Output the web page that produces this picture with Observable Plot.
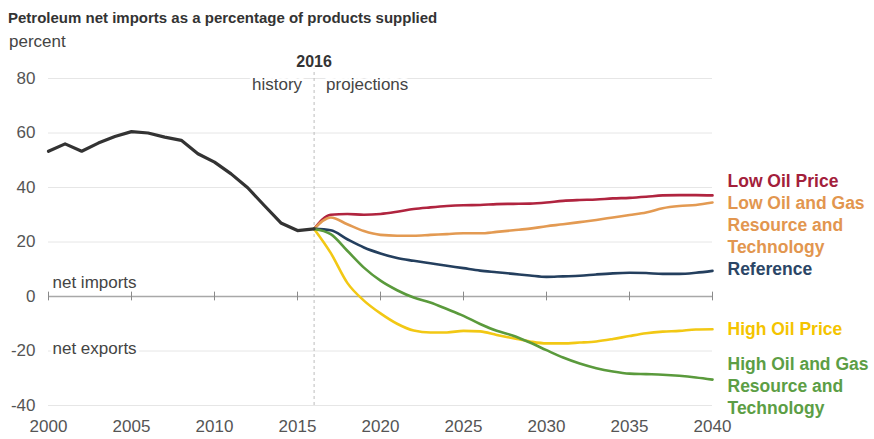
<!DOCTYPE html>
<html>
<head>
<meta charset="utf-8">
<script src="https://cdn.jsdelivr.net/npm/d3@7"></script>
<script src="https://cdn.jsdelivr.net/npm/@observablehq/plot@0.6"></script>
<style>
  body { margin: 0; background: #fff; font-family: "Liberation Sans", Arial, sans-serif; }
  #header { position: relative; width: 874px; height: 50px; }
  #title { position: absolute; left: 8px; top: 9px; font-size: 15px; font-weight: bold; color: #333; white-space: nowrap; }
  #unit { position: absolute; left: 9px; top: 32px; font-size: 17px; color: #444; }
  #chart svg { display: block; }
</style>
</head>
<body>
<div id="header">
  <div id="title">Petroleum net imports as a percentage of products supplied</div>
  <div id="unit">percent</div>
</div>
<div id="chart"></div>
<script>
// ---- data ----
const historyYears = [2000,2001,2002,2003,2004,2005,2006,2007,2008,2009,2010,2011,2012,2013,2014,2015,2016];
const historyValues = [53.3,56.0,53.3,56.3,58.7,60.5,60.0,58.5,57.3,52.4,49.3,45.0,39.9,33.4,27.0,24.2,24.8];

const projYears = [2016,2017,2018,2019,2020,2021,2022,2023,2024,2025,2026,2027,2028,2029,2030,2031,2032,2033,2034,2035,2036,2037,2038,2039,2040];
const lowOilPrice =   [24.8,30.0,30.3,30.0,30.3,31.1,32.1,32.7,33.2,33.5,33.6,33.9,34.0,34.1,34.5,35.1,35.4,35.6,36.0,36.2,36.6,37.1,37.2,37.2,37.1];
const lowOilGas =     [24.8,29.0,26.5,24.0,22.6,22.3,22.3,22.6,22.9,23.2,23.2,23.7,24.3,24.9,25.8,26.5,27.3,28.1,29.0,29.9,30.8,32.4,33.2,33.6,34.5];
const reference =     [24.8,24.3,21.0,18.0,15.8,14.1,13.1,12.2,11.3,10.4,9.5,8.9,8.3,7.7,7.2,7.4,7.6,8.1,8.5,8.7,8.6,8.3,8.3,8.7,9.4];
const highOilPrice =  [24.8,16.0,5.0,-1.5,-6.2,-10.0,-12.5,-13.2,-13.2,-12.6,-12.8,-14.1,-15.3,-16.5,-17.2,-17.2,-16.9,-16.5,-15.6,-14.5,-13.5,-12.9,-12.6,-12.1,-12.0];
const highOilGas =    [24.8,22.9,16.8,10.6,5.8,2.3,-0.4,-2.2,-4.6,-7.1,-10.1,-12.6,-14.4,-16.9,-19.7,-22.4,-24.6,-26.3,-27.5,-28.3,-28.5,-28.7,-29.1,-29.7,-30.5];

const seriesNames = ["Low Oil Price","Low Oil and Gas Resource and Technology","Reference","High Oil Price","High Oil and Gas Resource and Technology"];
const seriesColors = ["#b0243f","#e39a52","#243f5e","#f2c814","#5a9a3c"];
const labelLines = ["Low Oil Price","Low Oil and Gas\nResource and\nTechnology","Reference","High Oil Price","High Oil and Gas\nResource and\nTechnology"];
const labelY = [42.6, 26.6, 10.5, -11.5, -32.6];
const labelColors = ["#a3203b","#e2964f","#2b4666","#f4c400","#5c9e45"];

const xTicks = [2000,2005,2010,2015,2020,2025,2030,2035,2040];
const yTicks = [-40,-20,0,20,40,60,80];
const gridY = [-40,-20,20,40,60,80];
const dividerYear = 2016;

// ---- tables ----
const hist = historyYears.map((y,i) => ({year: y, value: historyValues[i]}));
const projSeries = [lowOilPrice, lowOilGas, reference, highOilPrice, highOilGas];
const proj = [];
projSeries.forEach((vals, s) => projYears.forEach((y,i) => proj.push({series: seriesNames[s], year: y, value: vals[i]})));
const labels = seriesNames.map((n,i) => ({series: n, text: labelLines[i], y: labelY[i], color: labelColors[i]}));

const plot = Plot.plot({
  width: 874,
  height: 389,
  marginTop: 28,
  marginBottom: 34,
  marginLeft: 48,
  marginRight: 162,
  style: {fontFamily: '"Liberation Sans", Arial, sans-serif', background: "#fff"},
  x: {domain: [2000, 2040]},
  y: {domain: [-40, 80]},
  color: {domain: seriesNames, range: seriesColors},
  marks: [
    Plot.ruleY(gridY, {stroke: "#e6e6e6", strokeWidth: 1}),
    Plot.ruleX([dividerYear], {y1: -40, y2: 83.5, stroke: "#bdbdbd", strokeDasharray: "3,3", strokeWidth: 1}),
    Plot.ruleY([0], {stroke: "#a8a8a8", strokeWidth: 1.5}),
    Plot.ruleX(xTicks, {x: d => d, y1: -1.6, y2: 1.6, stroke: "#8a8a8a", strokeWidth: 1}),
    Plot.text(["net imports"], {x: 2000, y: 5.1, dx: 4, text: d => d, textAnchor: "start", fontSize: 17, fill: "#444", stroke: "white", strokeWidth: 6}),
    Plot.text(["net exports"], {x: 2000, y: -19.2, dx: 4, text: d => d, textAnchor: "start", fontSize: 17, fill: "#444", stroke: "white", strokeWidth: 6}),
    Plot.text(["history"], {x: dividerYear, frameAnchor: "top", dy: -1, dx: -12, text: d => d, textAnchor: "end", fontSize: 17, fill: "#444", stroke: "white", strokeWidth: 6}),
    Plot.text(["projections"], {x: dividerYear, frameAnchor: "top", dy: -1, dx: 12, text: d => d, textAnchor: "start", fontSize: 17, fill: "#444", stroke: "white", strokeWidth: 6}),
    Plot.text([String(dividerYear)], {x: dividerYear, frameAnchor: "top", dy: -23, text: d => d, textAnchor: "middle", fontSize: 16, fontWeight: "bold", fill: "#333"}),
    Plot.line(proj, {x: "year", y: "value", z: "series", stroke: "series", strokeWidth: 2.6, curve: "monotone-x"}),
    Plot.line(hist, {x: "year", y: "value", stroke: "#333", strokeWidth: 3.2, curve: "linear"}),
    Plot.text(labels, {x: 2040, y: "y", dx: 15, text: "text", fill: "color", textAnchor: "start", fontSize: 17.5, fontWeight: "bold", lineHeight: 1.26}),
    Plot.axisX({ticks: xTicks, tickFormat: d => String(d), tickSize: 0, tickPadding: 14, fontSize: 17, fill: "#555", label: null}),
    Plot.axisY({ticks: yTicks, tickFormat: d => String(d), tickSize: 0, tickPadding: 13, fontSize: 17, fill: "#555", label: null})
  ]
});
document.getElementById("chart").appendChild(plot);
</script>
</body>
</html>
